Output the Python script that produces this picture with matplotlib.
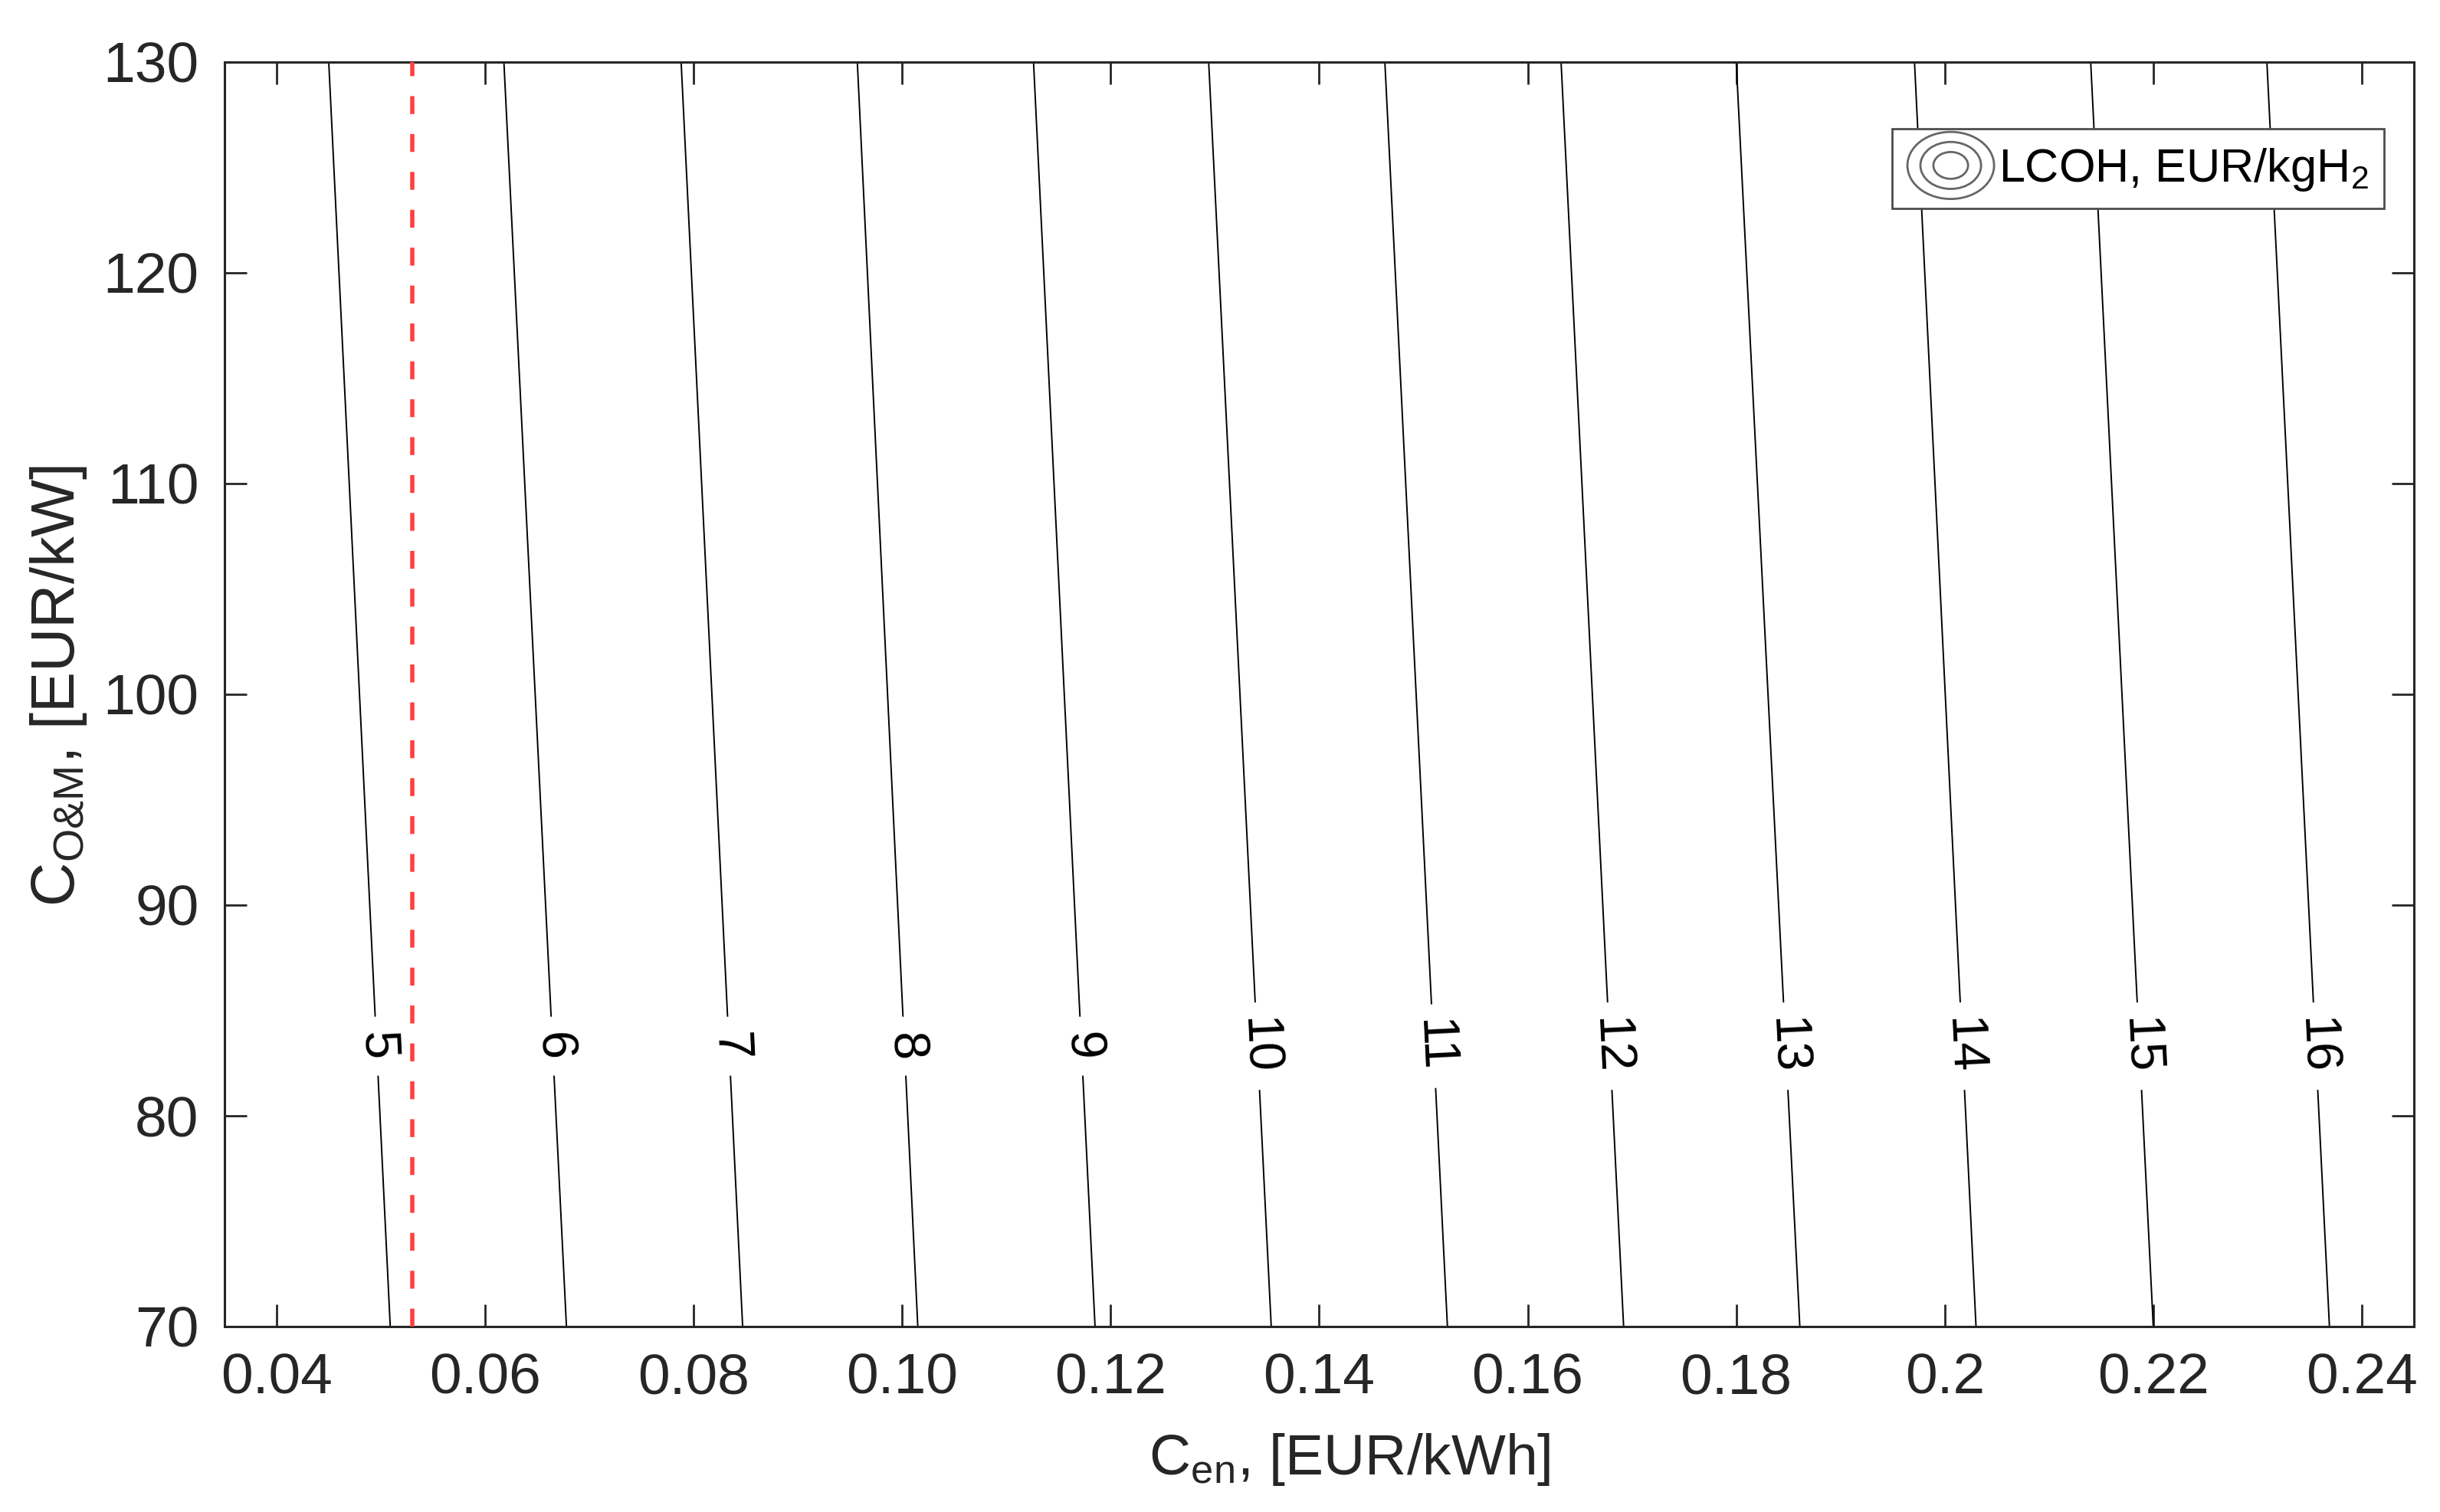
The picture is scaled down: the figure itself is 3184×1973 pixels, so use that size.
import numpy as np
import matplotlib
matplotlib.use("Agg")
import matplotlib.pyplot as plt
from matplotlib.legend_handler import HandlerBase
from matplotlib.patches import Ellipse
from matplotlib.lines import Line2D

plt.rcParams['font.family'] = ['Liberation Sans', 'DejaVu Sans']
plt.rcParams['mathtext.fontset'] = 'custom'
plt.rcParams['mathtext.rm'] = 'Liberation Sans'
plt.rcParams['mathtext.it'] = 'Liberation Sans'

# LCOH contour levels and where each line meets the bottom (70) and top (130) of the plot
levels = [5, 6, 7, 8, 9, 10, 11, 12, 13, 14, 15, 16]
c_om_ends = [70, 130]
c_en_at_70 = [0.0509, 0.0678, 0.0847, 0.1015, 0.1185, 0.1354,
              0.1523, 0.1692, 0.1861, 0.2030, 0.2200, 0.2369]
c_en_at_130 = [0.0450, 0.0618, 0.0788, 0.0957, 0.1126, 0.1294,
               0.1463, 0.1632, 0.1800, 0.1971, 0.2140, 0.2309]
label_c_om = 83.3
c_en_ref = 0.053   # red dashed marker

xticks = [0.04, 0.06, 0.08, 0.10, 0.12, 0.14, 0.16, 0.18, 0.20, 0.22, 0.24]
xticklabels = ['0.04', '0.06', '0.08', '0.10', '0.12', '0.14', '0.16', '0.18', '0.2', '0.22', '0.24']
yticks = [70, 80, 90, 100, 110, 120, 130]

dark = '0.15'
fs = 27

class ContourHandler(HandlerBase):
    def create_artists(self, legend, orig_handle, xdescent, ydescent,
                       width, height, fontsize, trans):
        cx = width / 2 - xdescent
        cy = height / 2 - ydescent
        arts = []
        for s in (1.0, 0.7, 0.4):
            e = Ellipse((cx, cy), width * s, height * 1.6 * s, fill=False,
                        edgecolor='0.4', lw=1.0, transform=trans)
            arts.append(e)
        return arts

fig = plt.figure(figsize=(15.92, 9.865), dpi=200)
ax = fig.add_axes([0.092, 0.1227, 0.8973, 0.8363])

for lev, xb, xt in zip(levels, c_en_at_70, c_en_at_130):
    ax.plot([xb, xt], c_om_ends, color='k', lw=0.7, zorder=2)
    frac = (label_c_om - c_om_ends[0]) / (c_om_ends[1] - c_om_ends[0])
    xl = xb + (xt - xb) * frac
    ax.text(xl, label_c_om, str(lev), fontsize=24, rotation=-87.2,
            rotation_mode='anchor', ha='center', va='center', color='k',
            bbox=dict(boxstyle='square,pad=0.3', fc='white', ec='none'),
            zorder=3)

ax.axvline(c_en_ref, color='#ff4040', lw=2.0, ls=(0, (4.2, 4.7)), zorder=4)

ax.set_xlim(0.035, 0.245)
ax.set_ylim(70, 130)
ax.set_xticks(xticks)
ax.set_xticklabels(xticklabels)
ax.set_yticks(yticks)
ax.tick_params(direction='in', top=True, right=True, length=10.5, width=1.0,
               colors=dark, labelcolor=dark, labelsize=fs, pad=12)
for sp in ax.spines.values():
    sp.set_color(dark)
    sp.set_linewidth(1.1)

ax.set_xlabel(r'C$_{\mathregular{en}}$, [EUR/kWh]', fontsize=fs, color=dark)
ax.set_ylabel(r'C$_{\mathregular{O&M}}$, [EUR/kW]', fontsize=fs * 1.06, color=dark)
ax.xaxis.set_label_coords(0.514, -0.083)
ax.yaxis.set_label_coords(-0.062, 0.507)

leg = ax.legend([Line2D([], [])], [r'LCOH, EUR/kgH$_\mathregular{2}$'],
                handler_map={Line2D: ContourHandler()},
                loc='upper right', bbox_to_anchor=(0.9864, 0.947),
                borderaxespad=0, fontsize=22, fancybox=False,
                framealpha=1, edgecolor='0.3', handlelength=1.85,
                handleheight=1.0, handletextpad=0.1, borderpad=0.33)
leg.get_frame().set_linewidth(1.0)

fig.savefig('out.png', dpi=200)
